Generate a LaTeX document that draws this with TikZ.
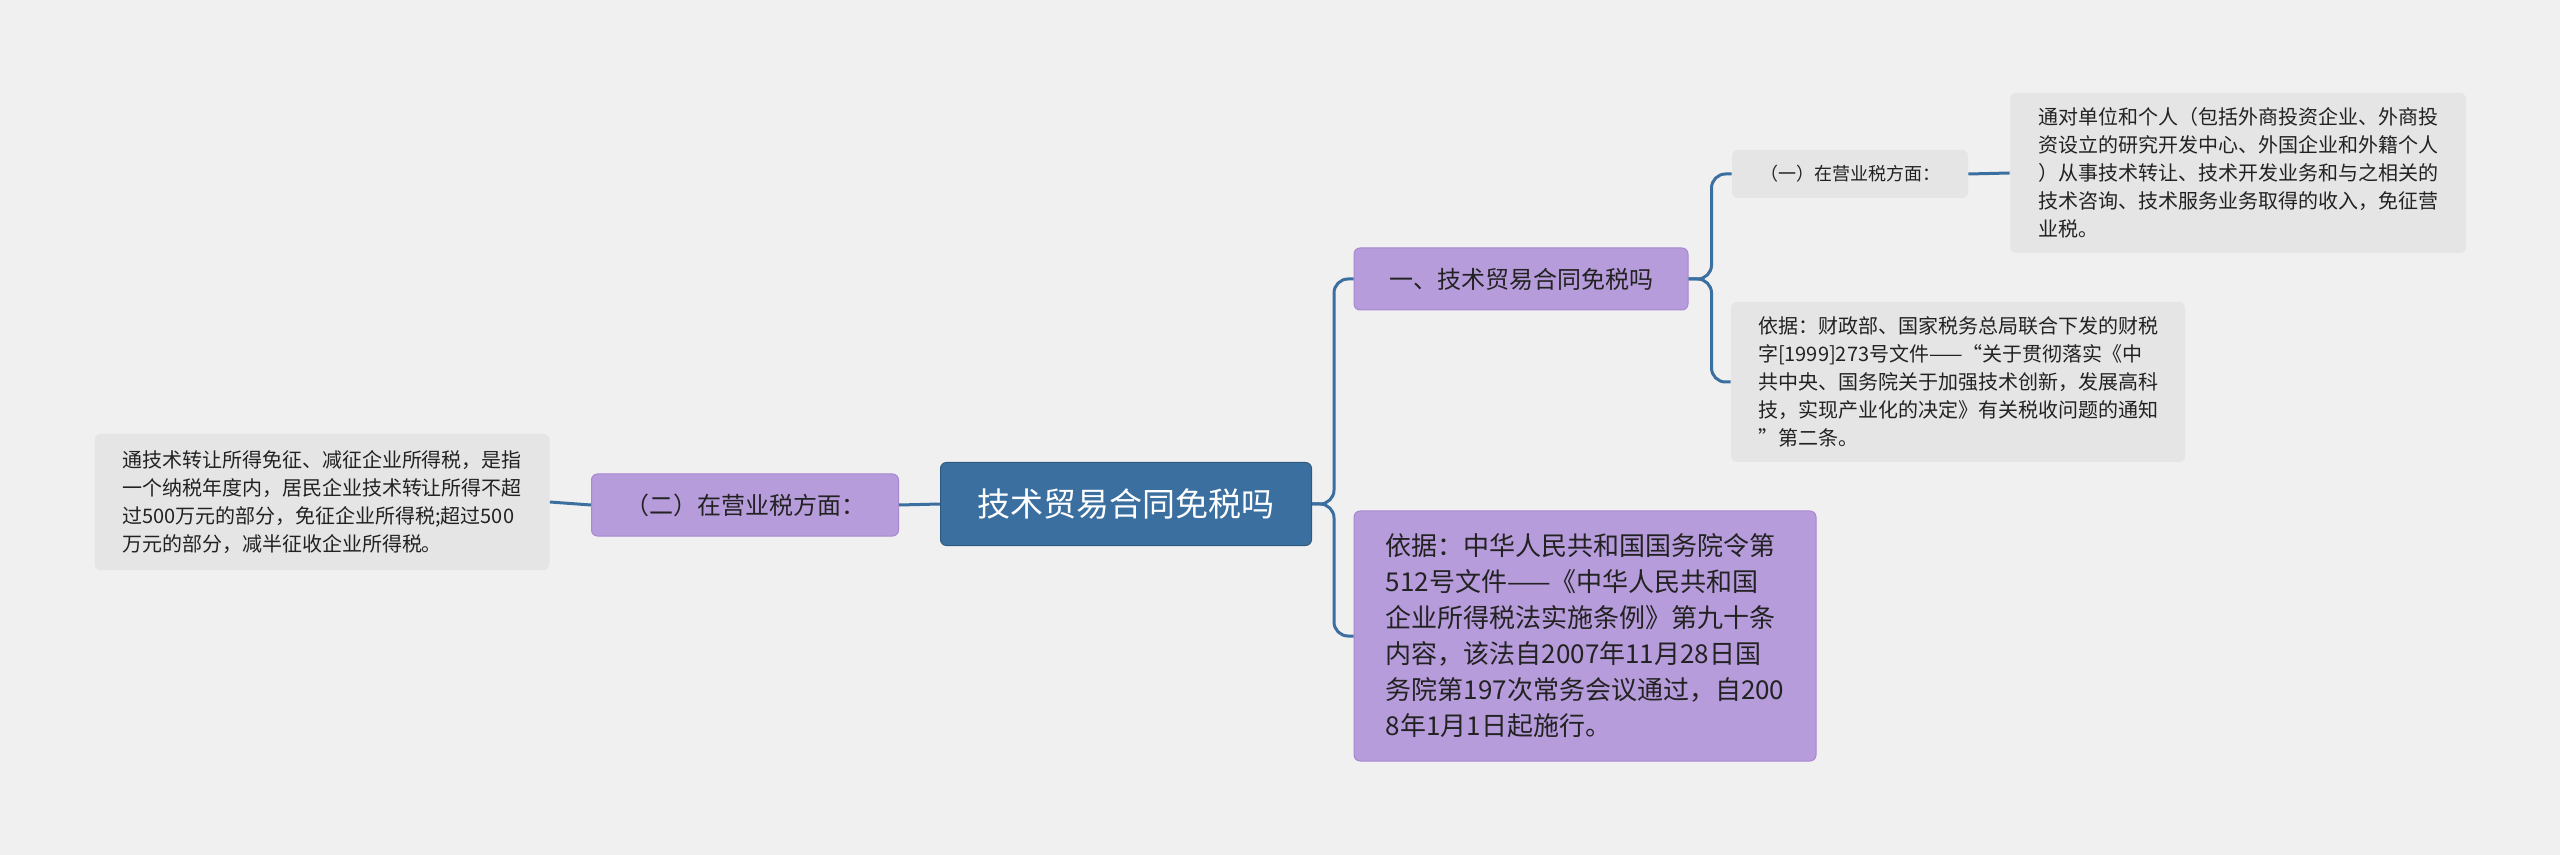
\documentclass[tikz,border=0pt]{standalone}
\usepackage{fontspec}
\setmainfont{Noto Sans CJK SC}
\usetikzlibrary{calc}
\definecolor{bg}{HTML}{F0F0F0}
\definecolor{rootc}{HTML}{3B6FA0}
\definecolor{lav}{HTML}{B79CDB}
\definecolor{lavd}{HTML}{A888D0}
\definecolor{leaf}{HTML}{E5E5E5}
\definecolor{txt}{HTML}{222222}
\tikzset{
  rootbox/.style={fill=rootc,draw=rootc!80!black,line width=0.5pt,rounded corners=3pt,text=white,font=\fontsize{16.5}{20}\selectfont,minimum width=185.5pt,minimum height=41.5pt},
  mainbox/.style={fill=lav,draw=lavd,line width=0.5pt,rounded corners=3pt,text=txt,font=\fontsize{12}{15}\selectfont,minimum height=31pt},
  bigbox/.style={fill=lav,draw=lavd,line width=0.5pt,rounded corners=3pt,text=txt,font=\fontsize{13}{18}\selectfont,align=left,inner sep=7pt,minimum width=231pt,minimum height=125pt},
  subbox/.style={fill=leaf,rounded corners=3pt,text=txt,font=\fontsize{9}{12}\selectfont,minimum width=118pt,minimum height=24pt},
  leafbox/.style={fill=leaf,rounded corners=3pt,text=txt,font=\fontsize{10}{14}\selectfont,align=left,inner sep=5pt},
  conn/.style={draw=rootc,line width=1.5pt,rounded corners=7pt}
}
\begin{document}
\begin{tikzpicture}[x=0.5pt,y=-0.5pt]
\fill[bg] (0,0) rectangle (2560,855);
\useasboundingbox (0,0) rectangle (2560,855);
\node[rootbox] (root) at (1126,504) {技术贸易合同免税吗};
\node[mainbox,minimum width=153.5pt] (l1) at (745,505) {（二）在营业税方面：};
\node[leafbox,minimum width=227.5pt,minimum height=68pt] (l2) at (322,502) {通技术转让所得免征、减征企业所得税，是指\\一个纳税年度内，居民企业技术转让所得不超\\过500万元的部分，免征企业所得税;超过500\\万元的部分，减半征收企业所得税。};
\node[mainbox,minimum width=167pt] (r1) at (1521,279) {一、技术贸易合同免税吗};
\node[bigbox] (r2) at (1585,636) {依据：中华人民共和国国务院令第\\512号文件——《中华人民共和国\\企业所得税法实施条例》第九十条\\内容，该法自2007年11月28日国\\务院第197次常务会议通过，自200\\8年1月1日起施行。};
\node[subbox] (s1) at (1850,174) {（一）在营业税方面：};
\node[leafbox,minimum width=228pt,minimum height=80pt] (s2) at (2238,173) {通对单位和个人（包括外商投资企业、外商投\\资设立的研究开发中心、外国企业和外籍个人\\）从事技术转让、技术开发业务和与之相关的\\技术咨询、技术服务业务取得的收入，免征营\\业税。};
\node[leafbox,minimum width=227pt,minimum height=80pt] (s3) at (1958,382) {依据：财政部、国家税务总局联合下发的财税\\字[1999]273号文件——“关于贯彻落实《中\\共中央、国务院关于加强技术创新，发展高科\\技，实现产业化的决定》有关税收问题的通知\\”第二条。};
\draw[conn] (root.west) -- (l1.east);
\draw[conn] (l1.west) -- (l2.east);
\draw[conn] (root.east) -- ($(root.east)+(22,0)$) |- (r1.west);
\draw[conn] (root.east) -- ($(root.east)+(22,0)$) |- (r2.west);
\draw[conn] (r1.east) -- ($(r1.east)+(23,0)$) |- (s1.west);
\draw[conn] (r1.east) -- ($(r1.east)+(23,0)$) |- (s3.west);
\draw[conn] (s1.east) -- (s2.west);
\end{tikzpicture}
\end{document}
